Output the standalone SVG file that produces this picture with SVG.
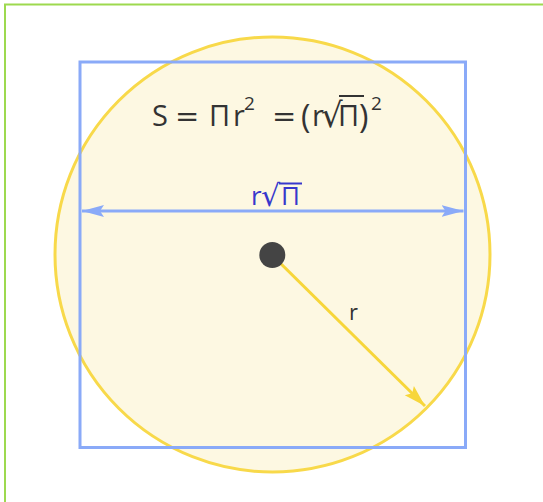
<svg xmlns="http://www.w3.org/2000/svg" width="543" height="502" viewBox="0 0 543 502">
<style>
.t{font-family:"Open Sans","DejaVu Sans",sans-serif;fill:#333}
.b{font-family:"Open Sans","DejaVu Sans",sans-serif;fill:#3838cc}
.m{font-family:"DejaVu Sans",sans-serif}
.blue{stroke:#8aaaf8;stroke-width:3;fill:none}
</style>
<defs>
<marker id="ab" markerUnits="userSpaceOnUse" markerWidth="24" markerHeight="14" refX="22" refY="7" orient="auto-start-reverse">
<path d="M0,1 L22,7 L0,13 L4,7 Z" fill="#8aaaf8"/>
</marker>
<marker id="ay" markerUnits="userSpaceOnUse" markerWidth="24" markerHeight="16" refX="22" refY="8" orient="auto">
<path d="M0,1.5 L22,8 L0,14.5 L4,8 Z" fill="#f7d63a"/>
</marker>
</defs>
<rect width="543" height="502" fill="#ffffff"/>
<path d="M5,502 V4.5 H543" fill="none" stroke="#9dd94f" stroke-width="2"/>
<g id="circle">
<circle cx="272.5" cy="254.5" r="217.5" fill="#fdf8e2" stroke="#f8d94a" stroke-width="3"/>
</g>
<g id="square">
<rect x="80" y="62" width="385.5" height="385.5" class="blue"/>
</g>
<g id="connectors">
<line x1="82" y1="211" x2="463.5" y2="211" class="blue" stroke-width="2.5" marker-start="url(#ab)" marker-end="url(#ab)"/>
<line x1="272" y1="255" x2="425" y2="406" stroke="#f7d63a" stroke-width="3" marker-end="url(#ay)"/>
</g>
<g id="center">
<circle cx="272.3" cy="255" r="13" fill="#444"/>
</g>
<g id="formula">
<text class="t" font-size="29">
<tspan x="152" y="126">S</tspan>
<tspan x="175" y="126" class="m">=</tspan>
<tspan x="209" y="126">Π</tspan>
<tspan x="233" y="126">r</tspan>
<tspan x="244" y="110" font-size="19">2</tspan>
<tspan x="272" y="126" class="m">=</tspan>
<tspan x="301" y="128" font-size="32">(</tspan>
<tspan x="312" y="126">r</tspan>
<tspan x="321" y="127" class="m" font-size="34">√</tspan>
<tspan x="338" y="126">Π</tspan>
<tspan x="359" y="128" font-size="32">)</tspan>
<tspan x="371" y="110" font-size="19">2</tspan>
</text>
<line x1="339" y1="96" x2="364" y2="96" stroke="#333" stroke-width="2"/>
</g>
<g id="labels">
<text class="b" font-size="26">
<tspan x="251" y="205">r</tspan>
<tspan x="261" y="206" class="m" font-size="30">√</tspan>
<tspan x="281" y="205">Π</tspan>
</text>
<line x1="279" y1="183.5" x2="302" y2="183.5" stroke="#3838cc" stroke-width="2"/>
<text class="t" font-size="22" x="349" y="320">r</text>
</g>
</svg>
